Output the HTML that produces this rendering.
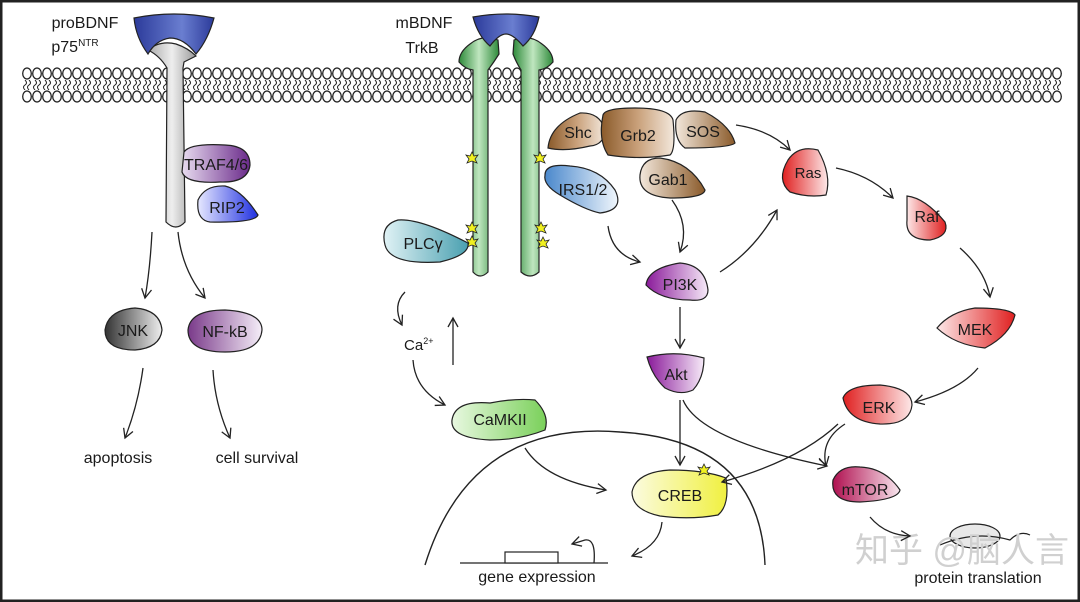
<!DOCTYPE html>
<html><head><meta charset="utf-8"><style>
html,body{margin:0;padding:0;background:#fff}
svg{display:block}
text{font-family:"Liberation Sans",Arial,sans-serif;fill:#1a1a1a}
</style></head><body>
<svg width="1080" height="602" viewBox="0 0 1080 602" xmlns="http://www.w3.org/2000/svg">
<defs>
<pattern id="lipT" x="22" y="66" width="10" height="15" patternUnits="userSpaceOnUse">
<ellipse cx="5" cy="7.5" rx="4.3" ry="5.5" fill="#fff" stroke="#222" stroke-width="1.3"/></pattern>
<pattern id="lipB" x="22" y="89" width="10" height="15" patternUnits="userSpaceOnUse">
<ellipse cx="5" cy="7.5" rx="4.3" ry="5.5" fill="#fff" stroke="#222" stroke-width="1.3"/></pattern>
<pattern id="tails" x="22" y="80" width="10" height="10" patternUnits="userSpaceOnUse">
<path d="M3 0 Q6 3 3 5 Q0 7 3 10 M7 0 Q10 3 7 5 Q4 7 7 10" fill="none" stroke="#222" stroke-width="1"/></pattern>
<linearGradient id="blue" x1="0" x2="1"><stop offset="0" stop-color="#2b3a9a"/><stop offset=".6" stop-color="#6a7ed0"/><stop offset="1" stop-color="#2b3a9a"/></linearGradient>
<linearGradient id="gray" x1="0" x2="1"><stop offset="0" stop-color="#aaa"/><stop offset=".5" stop-color="#eee"/><stop offset="1" stop-color="#999"/></linearGradient>
<linearGradient id="green" x1="0" x2="1"><stop offset="0" stop-color="#2e8a3a"/><stop offset=".5" stop-color="#bfe6bf"/><stop offset="1" stop-color="#2e8a3a"/></linearGradient>
<linearGradient id="traf" x1="0" x2="1"><stop offset="0" stop-color="#e8dcf0"/><stop offset="1" stop-color="#6a2a8a"/></linearGradient>
<linearGradient id="rip" x1="0" x2="1"><stop offset="0" stop-color="#e6e8ff"/><stop offset="1" stop-color="#2030e0"/></linearGradient>
<linearGradient id="jnk" x1="0" x2="1"><stop offset="0" stop-color="#333"/><stop offset="1" stop-color="#eee"/></linearGradient>
<linearGradient id="nfkb" x1="0" x2="1"><stop offset="0" stop-color="#7a3a8a"/><stop offset="1" stop-color="#f5eef8"/></linearGradient>
<linearGradient id="plc" x1="0" x2="1"><stop offset="0" stop-color="#e0f2f5"/><stop offset="1" stop-color="#4aa0b0"/></linearGradient>
<linearGradient id="brown" x1="0" x2="1"><stop offset="0" stop-color="#8a5a2a"/><stop offset=".5" stop-color="#c9a07a"/><stop offset="1" stop-color="#f3e8dc"/></linearGradient>
<linearGradient id="brownR" x1="0" x2="1"><stop offset="0" stop-color="#f3e8dc"/><stop offset="1" stop-color="#8a5a2a"/></linearGradient>
<linearGradient id="irs" x1="0" x2="1"><stop offset="0" stop-color="#4a88cc"/><stop offset="1" stop-color="#f0f6fc"/></linearGradient>
<linearGradient id="purple" x1="0" x2="1"><stop offset="0" stop-color="#8a1a9a"/><stop offset="1" stop-color="#f6eaf8"/></linearGradient>
<linearGradient id="redL" x1="0" x2="1"><stop offset="0" stop-color="#e02020"/><stop offset="1" stop-color="#fde8e8"/></linearGradient>
<linearGradient id="redR" x1="0" x2="1"><stop offset="0" stop-color="#fde8e8"/><stop offset="1" stop-color="#e02020"/></linearGradient>
<linearGradient id="mtor" x1="0" x2="1"><stop offset="0" stop-color="#b01050"/><stop offset="1" stop-color="#f8e6ee"/></linearGradient>
<linearGradient id="creb" x1="0" x2="1"><stop offset="0" stop-color="#fbfbe0"/><stop offset="1" stop-color="#f0f040"/></linearGradient>
<linearGradient id="camk" x1="0" x2="1"><stop offset="0" stop-color="#e8f8e0"/><stop offset="1" stop-color="#7ad05a"/></linearGradient>
<marker id="ah" markerWidth="12" markerHeight="12" refX="10" refY="6" orient="auto" markerUnits="userSpaceOnUse">
<path d="M1 1 L10 6 L1 11" fill="none" stroke="#222" stroke-width="1.3"/></marker>
<g id="star"><path d="M0 -6 L2 -2 L6 -3 L3 1 L5 5 L0 3 L-5 5 L-3 1 L-6 -3 L-2 -2Z" fill="#f0f020" stroke="#222" stroke-width="0.8"/></g>
</defs>
<rect x="0" y="0" width="1080" height="602" fill="#fff" stroke="#222" stroke-width="5"/>
<!-- membrane -->
<rect x="22" y="66" width="1040" height="15" fill="url(#lipT)"/>
<rect x="22" y="80" width="1040" height="10" fill="url(#tails)"/>
<rect x="22" y="89" width="1040" height="15" fill="url(#lipB)"/>

<!-- p75 -->
<path d="M148 50 Q160 40 176 44 Q188 48 196 56 L184 62 L183 68 L185 222 Q176 232 166 222 L167 68 Q160 56 148 50Z" fill="url(#gray)" stroke="#222" stroke-width="1.2"/>
<path d="M134 18 Q174 10 214 18 Q208 40 196 54 Q184 38 170 38 Q156 40 148 54 Q136 38 134 18Z" fill="url(#blue)" stroke="#222" stroke-width="1.2"/>
<text x="85" y="28" font-size="16" text-anchor="middle">proBDNF</text>
<text x="75" y="52" font-size="16" text-anchor="middle">p75<tspan font-size="10" dy="-6">NTR</tspan></text>
<path d="M184 152 Q190 143 225 145 Q250 146 250 165 Q248 183 220 182 Q186 184 182 172 Z" fill="url(#traf)" stroke="#222" stroke-width="1.2"/>
<text x="216" y="170" font-size="16" text-anchor="middle">TRAF4/6</text>
<path d="M198 200 Q205 185 225 186 Q242 190 258 215 Q255 223 210 222 Q196 220 198 200Z" fill="url(#rip)" stroke="#222" stroke-width="1.2"/>
<text x="227" y="213" font-size="16" text-anchor="middle">RIP2</text>
<path d="M152 232 Q150 270 145 298" fill="none" stroke="#222" stroke-width="1.3" marker-end="url(#ah)"/>
<path d="M178 232 Q182 270 205 298" fill="none" stroke="#222" stroke-width="1.3" marker-end="url(#ah)"/>
<path d="M105 330 Q108 310 135 308 Q160 310 162 330 Q160 348 135 350 Q105 350 105 330Z" fill="url(#jnk)" stroke="#222" stroke-width="1.2"/>
<text x="133" y="336" font-size="16" text-anchor="middle">JNK</text>
<path d="M188 330 Q190 310 225 310 Q262 312 262 330 Q260 352 225 352 Q188 352 188 330Z" fill="url(#nfkb)" stroke="#222" stroke-width="1.2"/>
<text x="225" y="337" font-size="16" text-anchor="middle">NF-kB</text>
<path d="M143 368 Q138 405 125 438" fill="none" stroke="#222" stroke-width="1.3" marker-end="url(#ah)"/>
<path d="M213 370 Q215 405 230 438" fill="none" stroke="#222" stroke-width="1.3" marker-end="url(#ah)"/>
<text x="118" y="463" font-size="16" text-anchor="middle">apoptosis</text>
<text x="257" y="463" font-size="16" text-anchor="middle">cell survival</text>

<!-- TrkB -->
<path d="M498 40 Q482 34 470 44 Q459 52 459 62 Q465 69 473 70 L473 272 Q480 280 488 272 L488 70 Q494 62 499 54 Z" fill="url(#green)" stroke="#222" stroke-width="1.2"/>
<path d="M514 40 Q530 34 542 44 Q553 52 553 62 Q547 69 539 70 L539 272 Q530 280 521 272 L521 70 Q516 62 513 54 Z" fill="url(#green)" stroke="#222" stroke-width="1.2"/>
<path d="M473 17 Q506 11 539 17 Q535 36 523 46 Q513 34 506 34 Q499 34 490 46 Q478 36 473 17Z" fill="url(#blue)" stroke="#222" stroke-width="1.2"/>
<text x="424" y="28" font-size="16" text-anchor="middle">mBDNF</text>
<text x="422" y="53" font-size="16" text-anchor="middle">TrkB</text>
<use href="#star" x="472" y="158"/><use href="#star" x="540" y="158"/>
<use href="#star" x="472" y="228"/><use href="#star" x="472" y="242"/>
<use href="#star" x="541" y="228"/><use href="#star" x="543" y="243"/>
<path d="M385 245 Q380 225 398 220 Q420 218 468 243 Q470 255 440 262 Q390 265 385 245Z" fill="url(#plc)" stroke="#222" stroke-width="1.2"/>
<text x="423" y="249" font-size="16" text-anchor="middle">PLCγ</text>

<!-- adaptors -->
<path d="M548 148 Q550 125 580 113 Q600 112 605 130 Q604 145 590 146 Q565 152 548 148Z" fill="url(#brown)" stroke="#222" stroke-width="1.2"/>
<path d="M603 115 Q605 108 635 108 Q670 108 673 120 Q676 150 670 155 Q640 160 608 155 Q598 140 603 115Z" fill="url(#brown)" stroke="#222" stroke-width="1.2"/>
<path d="M676 120 Q682 108 705 112 Q730 125 735 143 Q730 148 685 148 Q674 140 676 120Z" fill="url(#brownR)" stroke="#222" stroke-width="1.2"/>
<text x="578" y="138" font-size="16" text-anchor="middle">Shc</text>
<text x="638" y="141" font-size="16" text-anchor="middle">Grb2</text>
<text x="703" y="137" font-size="16" text-anchor="middle">SOS</text>
<path d="M640 175 Q642 158 660 158 Q690 162 705 190 Q704 198 670 198 Q638 196 640 175Z" fill="url(#brownR)" stroke="#222" stroke-width="1.2"/>
<text x="668" y="185" font-size="16" text-anchor="middle">Gab1</text>
<path d="M545 175 Q545 163 570 166 Q600 168 615 190 Q625 210 600 213 Q585 210 560 195 Q543 185 545 175Z" fill="url(#irs)" stroke="#222" stroke-width="1.2"/>
<text x="583" y="195" font-size="16" text-anchor="middle">IRS1/2</text>

<!-- PI3K / Akt -->
<path d="M646 285 Q648 268 680 263 Q705 265 708 290 Q708 302 690 300 Q660 300 646 285Z" fill="url(#purple)" stroke="#222" stroke-width="1.2"/>
<text x="680" y="290" font-size="16" text-anchor="middle">PI3K</text>
<path d="M647 357 Q675 350 704 358 Q704 378 693 390 Q680 396 665 388 Q652 376 647 357Z" fill="url(#purple)" stroke="#222" stroke-width="1.2"/>
<text x="676" y="380" font-size="16" text-anchor="middle">Akt</text>

<!-- MAPK -->
<path d="M788 160 Q798 145 818 150 Q832 175 826 195 Q808 198 790 192 Q776 180 788 160Z" fill="url(#redL)" stroke="#222" stroke-width="1.2"/>
<text x="808" y="178" font-size="15" text-anchor="middle">Ras</text>
<path d="M907 196 Q925 198 945 222 Q950 236 930 240 Q905 240 907 220Z" fill="url(#redR)" stroke="#222" stroke-width="1.2"/>
<text x="927" y="222" font-size="16" text-anchor="middle">Raf</text>
<path d="M937 328 Q950 312 975 308 Q1010 308 1015 315 Q1010 335 985 348 Q955 345 937 328Z" fill="url(#redR)" stroke="#222" stroke-width="1.2"/>
<text x="975" y="335" font-size="16" text-anchor="middle">MEK</text>
<path d="M843 398 Q848 385 880 385 Q912 388 912 405 Q910 425 880 424 Q848 422 843 398Z" fill="url(#redL)" stroke="#222" stroke-width="1.2"/>
<text x="879" y="413" font-size="16" text-anchor="middle">ERK</text>
<path d="M833 480 Q840 465 860 467 Q885 468 900 490 Q898 500 860 502 Q830 502 833 480Z" fill="url(#mtor)" stroke="#222" stroke-width="1.2"/>
<text x="865" y="495" font-size="16" text-anchor="middle">mTOR</text>

<!-- CREB, CaMKII -->
<path d="M632 492 Q636 472 670 470 Q705 470 726 478 Q730 505 718 515 Q690 520 660 516 Q632 510 632 492Z" fill="url(#creb)" stroke="#222" stroke-width="1.2"/>
<text x="680" y="501" font-size="16" text-anchor="middle">CREB</text>
<use href="#star" x="704" y="470"/>
<path d="M452 420 Q455 400 490 403 Q515 398 535 400 Q550 415 545 430 Q520 440 490 440 Q450 438 452 420Z" fill="url(#camk)" stroke="#222" stroke-width="1.2"/>
<text x="500" y="425" font-size="16" text-anchor="middle">CaMKII</text>
<text x="404" y="350" font-size="15">Ca<tspan font-size="9" dy="-6">2+</tspan></text>

<!-- nucleus -->
<path d="M425 565 Q470 420 620 432 Q760 440 765 565" fill="none" stroke="#222" stroke-width="1.4"/>
<path d="M460 563 L608 563" stroke="#222" stroke-width="1.3"/>
<rect x="505" y="552" width="53" height="11" fill="#fff" stroke="#222" stroke-width="1.2"/>
<path d="M594 563 Q596 538 585 540 L572 544" fill="none" stroke="#222" stroke-width="1.3" marker-end="url(#ah)"/>
<text x="537" y="582" font-size="16" text-anchor="middle">gene expression</text>
<ellipse cx="975" cy="536" rx="25" ry="12" fill="#e8e8e8" stroke="#222" stroke-width="1.2"/>
<path d="M940 545 Q975 530 1010 540 Q1020 530 1030 535" fill="none" stroke="#222" stroke-width="1.2"/>
<text x="978" y="583" font-size="16" text-anchor="middle">protein translation</text>
<text x="855" y="562" font-size="34" style="fill:#d0d0d0;font-family:'Liberation Sans','Noto Sans CJK SC',sans-serif">知乎 @脑人言</text>

<!-- arrows -->
<g fill="none" stroke="#222" stroke-width="1.3" marker-end="url(#ah)">
<path d="M736 125 Q770 130 790 150"/>
<path d="M836 168 Q870 175 893 198"/>
<path d="M960 248 Q985 270 990 297"/>
<path d="M978 368 Q960 390 915 402"/>
<path d="M672 200 Q690 225 680 252"/>
<path d="M608 226 Q612 255 640 262"/>
<path d="M720 272 Q755 250 777 210"/>
<path d="M680 307 L680 348"/>
<path d="M680 400 L680 465"/>
<path d="M683 400 Q700 440 827 466"/>
<path d="M838 424 Q800 460 722 482"/>
<path d="M845 424 Q820 440 826 466"/>
<path d="M405 292 Q392 305 402 325"/>
<path d="M453 365 L453 318"/>
<path d="M413 360 Q415 390 445 405"/>
<path d="M525 448 Q545 480 606 490"/>
<path d="M662 522 Q660 545 632 556"/>
<path d="M870 517 Q885 535 910 536"/>
</g>
</svg>
</body></html>
